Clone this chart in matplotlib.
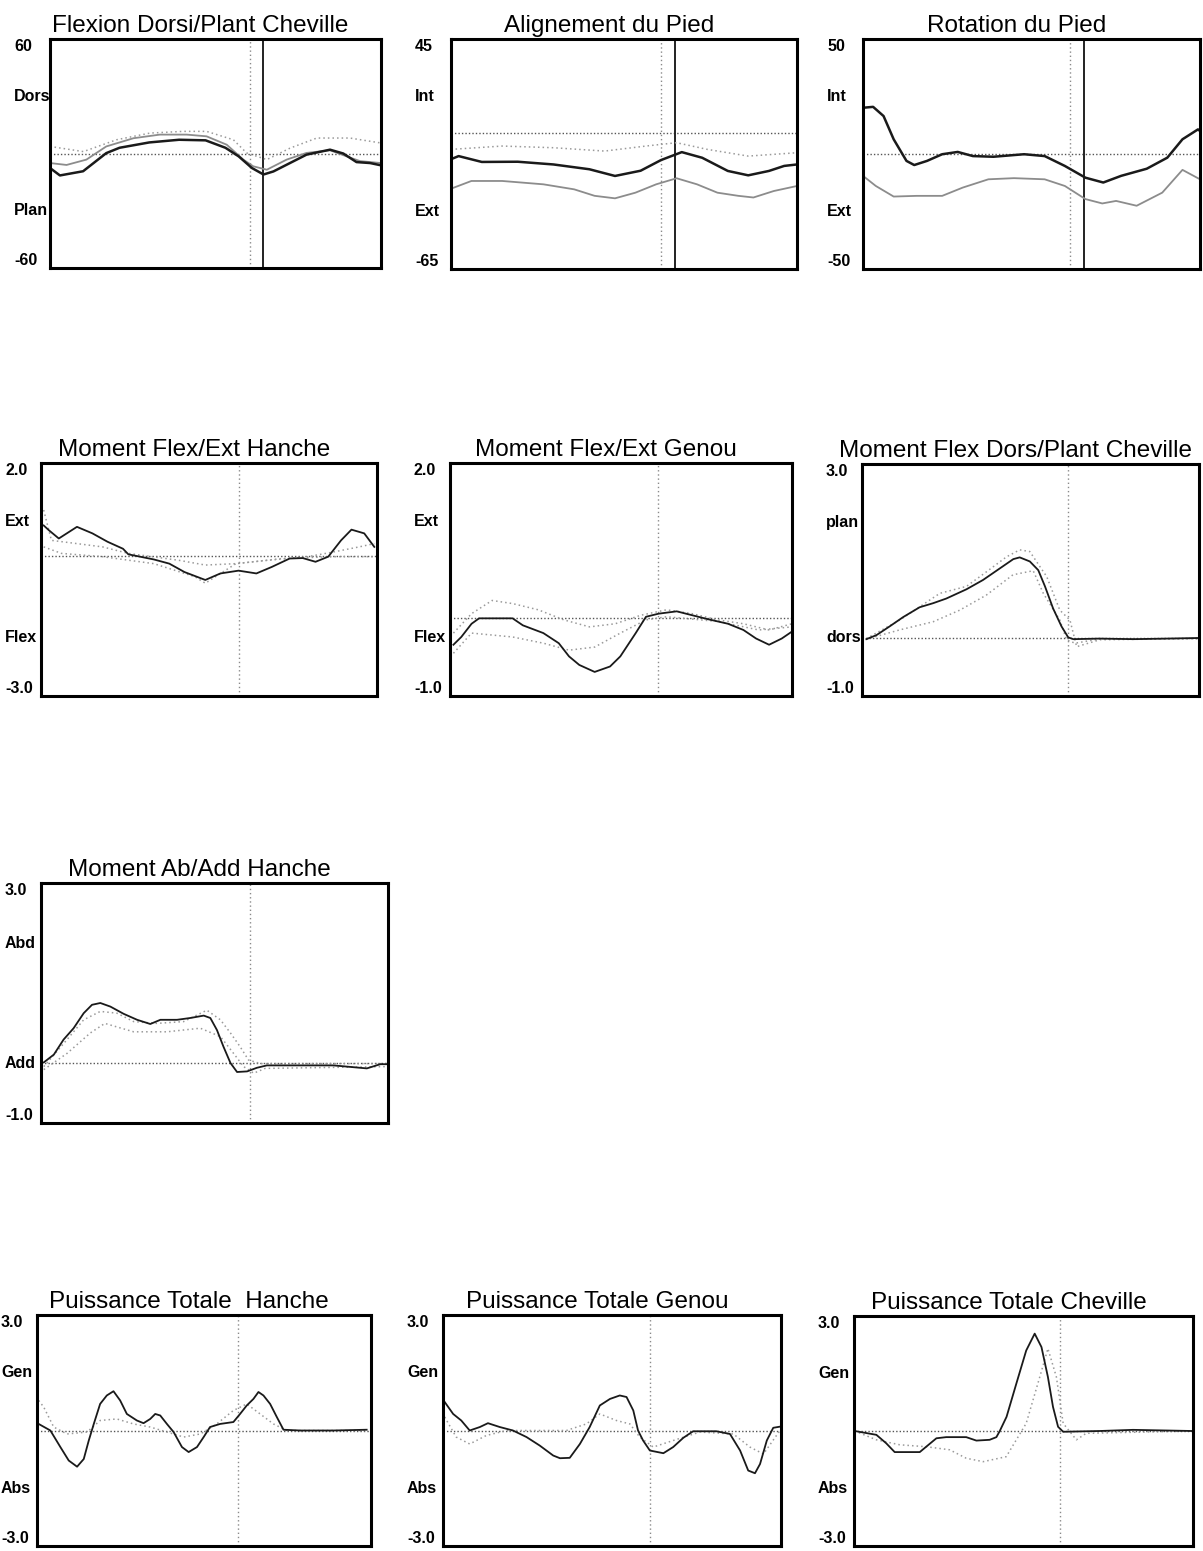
import matplotlib
matplotlib.use("Agg")
import matplotlib.pyplot as plt
from matplotlib.transforms import offset_copy

plt.rcParams['font.family'] = ['Liberation Sans', 'DejaVu Sans']

# --- Flexion Dorsi/Plant Cheville ---
flex_chev_x = [0, 3, 10, 17, 21, 30, 39, 47, 53, 57, 61, 64.5, 67.5, 72.5, 77.5, 84.6, 88.6, 92.6, 96.7, 100]
flex_chev_y = [-7.6, -11.5, -9.3, 0.2, 3, 5.8, 7.2, 6.9, 3, -1.5, -7.6, -11, -9.4, -5, -0.6, 2, 0, -4.5, -5, -6.2]
flex_chev_norm_x = [0, 5, 11, 17, 25.2, 33.2, 41.3, 47.3, 53.4, 58.4, 61.4, 65.5, 71.5, 77.5, 84.6, 89.6, 93.7, 100]
flex_chev_norm_y = [-5, -6, -3.2, 3.7, 8, 9.9, 9.9, 9, 4.6, -3.2, -6.7, -8.5, -3.2, 0.3, 1.7, -1.5, -4, -5]
flex_chev_band_x = [0, 10.1, 20.1, 30.2, 40.3, 47.3, 55.4, 59.4, 65.5, 72.5, 80.6, 90.6, 100]
flex_chev_band_y = [3.7, 1, 7.2, 10.7, 11.6, 11.6, 7.2, 0.3, -3.2, 2.8, 8.1, 8.1, 5.5]

# --- Alignement du Pied ---
align_x = [0, 2.2, 8.9, 19.3, 29.6, 40, 47.4, 54.8, 60.7, 66.7, 72.6, 80, 85.9, 91.9, 96.3, 100]
align_y = [-12.5, -11, -13.8, -13.7, -15, -17.3, -20.5, -18, -12.9, -9.1, -11.8, -18.1, -20.2, -18.1, -15.7, -15]
align_norm_x = [0, 5.9, 14.8, 26.7, 35.6, 41.5, 47.4, 53.3, 59.3, 65.2, 71.1, 77, 83, 87.4, 93.3, 100]
align_norm_y = [-26.6, -22.9, -22.9, -24.5, -26.9, -30, -31.2, -28.5, -24.5, -21.6, -24.5, -28.5, -30, -30.8, -27.7, -25.3]
align_band_x = [0, 14.8, 29.6, 44.4, 56.3, 65.2, 74.1, 85.9, 100]
align_band_y = [-7.8, -6.2, -7, -8.6, -6.2, -4.6, -7.8, -11, -9.4]

# --- Rotation du Pied ---
rot_x = [0, 3, 6.1, 9.1, 12.9, 15.2, 19, 23.5, 28.1, 32.6, 38.7, 47.8, 53.9, 59.9, 66, 71.3, 76.6, 84.2, 90.3, 94.8, 99.4, 100]
rot_y = [20.1, 20.5, 16.5, 6.4, -3, -4.8, -3, -0.1, 0.9, -0.9, -1.2, -0.1, -0.9, -5.2, -10.3, -12.4, -9.5, -6.4, -1.6, 6.4, 10.7, 10.0]
rot_norm_x = [0, 3.8, 9.1, 15.9, 23.5, 29.6, 37.2, 44.8, 53.9, 59.9, 66, 71, 75.1, 81.2, 88.8, 94.8, 100]
rot_norm_y = [-9.5, -13.9, -18.5, -18.2, -18.2, -14.6, -11, -10.5, -11, -13.9, -19.6, -21.5, -20.4, -22.5, -16.8, -6.9, -11]

# --- Moment Flex/Ext Hanche ---
mfh_x = [0.8, 2.3, 5.3, 10.7, 15.3, 19.8, 24.4, 26, 33.6, 38.2, 42.7, 48.9, 53.4, 58.8, 64.1, 68.7, 74, 77.9, 81.7, 85.5, 89.3, 92.4, 96.2, 99.2]
mfh_y = [0.66, 0.56, 0.38, 0.63, 0.49, 0.31, 0.16, 0.04, -0.07, -0.16, -0.34, -0.51, -0.37, -0.31, -0.37, -0.23, -0.05, -0.04, -0.12, -0.01, 0.34, 0.57, 0.49, 0.2]
mfh_up_x = [0.8, 3.1, 10.7, 18.3, 26, 41.2, 48.9, 58, 67.2, 79.4, 87, 94.7, 99.2]
mfh_up_y = [0.99, 0.34, 0.27, 0.2, 0.06, -0.09, -0.19, -0.16, -0.09, -0.01, 0.09, 0.2, 0.27]
mfh_lo_x = [0.8, 6.1, 18.3, 33.6, 45.8, 48.9, 58, 71.8, 87, 99.2]
mfh_lo_y = [0.2, 0.06, -0.01, -0.16, -0.44, -0.58, -0.16, -0.05, -0.01, -0.01]

# --- Moment Flex/Ext Genou ---
mfg_x = [1, 3.3, 6.3, 8.5, 18.3, 21.3, 27.3, 31.8, 34.8, 37.8, 42.3, 46.8, 49.8, 54.3, 57.3, 61, 66.3, 70.8, 75.3, 81.3, 85.8, 89.5, 93.3, 97, 100]
mfg_y = [-0.34, -0.24, -0.07, 0, 0, -0.09, -0.19, -0.32, -0.49, -0.6, -0.69, -0.62, -0.49, -0.19, 0.02, 0.06, 0.09, 0.04, -0.01, -0.07, -0.15, -0.26, -0.34, -0.26, -0.17]
mfg_up_x = [1, 6.3, 12.3, 18.3, 25.8, 33.3, 40.8, 48.3, 55.8, 63.3, 70.8, 78.3, 85.8, 93.3, 100]
mfg_up_y = [-0.19, 0.06, 0.23, 0.19, 0.11, -0.02, -0.11, -0.07, 0.04, 0.11, 0.06, -0.02, -0.07, -0.15, -0.07]
mfg_lo_x = [1, 6.3, 18.3, 27.3, 34.8, 42.3, 49.8, 57.3, 63.3, 78.3, 90.3, 100]
mfg_lo_y = [-0.45, -0.19, -0.24, -0.32, -0.41, -0.37, -0.19, -0.02, 0.02, -0.04, -0.15, -0.11]

# --- Moment Flex Dors/Plant Cheville ---
mfc_x = [1.3, 4.3, 8.2, 12.2, 17.1, 21.1, 25, 31, 35.9, 40.9, 44.9, 46.8, 49.8, 52.3, 54.3, 56.7, 59.2, 61.2, 62.7, 70.6, 80.5, 90.4, 99.8]
mfc_y = [-0.02, 0.05, 0.2, 0.36, 0.53, 0.6, 0.68, 0.84, 1.0, 1.2, 1.36, 1.39, 1.32, 1.17, 0.89, 0.51, 0.2, 0.01, -0.02, -0.01, -0.02, -0.01, 0]
mfc_up_x = [1.3, 11.2, 23.1, 31, 36.9, 42.9, 46.8, 49.8, 52.8, 54.8, 58.7, 61.7, 63.7, 70.6, 99.8]
mfc_up_y = [-0.01, 0.31, 0.77, 0.89, 1.14, 1.4, 1.52, 1.49, 1.23, 1.06, 0.48, 0.31, -0.15, -0.03, -0.01]
mfc_lo_x = [1.3, 11.2, 21.1, 29, 36.9, 44.8, 50.8, 53.8, 58.7, 60.7, 63.2, 70.1, 99.8]
mfc_lo_y = [-0.02, 0.14, 0.28, 0.48, 0.74, 1.09, 1.16, 0.77, 0.31, -0.03, -0.09, -0.02, -0.01]

# --- Moment Ab/Add Hanche ---
mab_x = [0.8, 3.7, 6.5, 9.4, 12.3, 14.7, 17.1, 20, 23.8, 27.7, 31.5, 34.4, 39.2, 43, 46.9, 48.8, 50.7, 52.6, 54.6, 56.5, 59.4, 62.2, 65.1, 74.7, 84.3, 93.9, 97.8, 99.7]
mab_y = [0.01, 0.14, 0.39, 0.58, 0.83, 0.97, 1.0, 0.94, 0.82, 0.72, 0.65, 0.72, 0.72, 0.75, 0.79, 0.75, 0.55, 0.27, 0.0, -0.15, -0.14, -0.08, -0.04, -0.04, -0.04, -0.09, -0.02, -0.02]
mab_up_x = [0.8, 7.5, 12.3, 17.1, 21.9, 26.7, 33.4, 41.1, 47.8, 51.7, 54.6, 57.4, 59.8, 63.2, 99.7]
mab_up_y = [-0.06, 0.39, 0.72, 0.86, 0.83, 0.69, 0.66, 0.69, 0.88, 0.72, 0.5, 0.27, 0.05, -0.01, -0.01]
mab_lo_x = [0.8, 7.5, 14.2, 18.4, 26.7, 36.3, 45.9, 51.7, 55.5, 58.4, 61.3, 64.6, 99.7]
mab_lo_y = [-0.11, 0.16, 0.5, 0.66, 0.52, 0.52, 0.58, 0.44, 0.16, -0.06, -0.17, -0.09, -0.06]

# --- Puissance Totale Hanche ---
pth_x = [0.5, 4, 7, 9.5, 12, 14, 15.5, 17, 18.9, 20.9, 22.9, 24.9, 26.9, 29.9, 31.9, 33.9, 35.4, 36.9, 38.9, 40.9, 43.4, 45.4, 47.9, 49.9, 51.8, 54.8, 58.8, 60.8, 62.8, 64.8, 66.3, 67.8, 69.8, 71.8, 73.8, 78.8, 88.7, 98.7]
pth_y = [0.17, 0, -0.43, -0.78, -0.94, -0.74, -0.26, 0.17, 0.69, 0.91, 1.02, 0.78, 0.43, 0.26, 0.19, 0.3, 0.43, 0.39, 0.17, -0.04, -0.43, -0.56, -0.43, -0.17, 0.09, 0.17, 0.22, 0.43, 0.65, 0.82, 1.0, 0.91, 0.69, 0.35, 0.02, 0, 0, 0.02]
pth_norm_x = [0.5, 2, 5, 9, 15, 18.9, 23.9, 28.9, 33.9, 38.9, 43.9, 48.9, 53.8, 58.8, 62.8, 66.8, 70.8, 74.8, 98.7]
pth_norm_y = [0.78, 0.61, 0.09, -0.09, -0.04, 0.26, 0.3, 0.17, 0.09, -0.04, -0.17, -0.09, 0.17, 0.52, 0.69, 0.43, 0.17, 0, 0]

# --- Puissance Totale Genou ---
ptg_x = [0.5, 3, 5.4, 7.9, 10.9, 13.3, 16.8, 20.7, 24.7, 28.6, 32.6, 34.6, 37.5, 40.5, 43.4, 46.4, 49.4, 52.3, 54.3, 56.3, 57.7, 59.2, 61.2, 65.2, 68.1, 71.1, 74, 80.9, 84.9, 87.9, 90.3, 92.3, 93.8, 95.8, 97.7, 99.7]
ptg_y = [0.74, 0.43, 0.26, 0, 0.09, 0.19, 0.09, 0, -0.17, -0.39, -0.65, -0.72, -0.71, -0.35, 0.09, 0.65, 0.82, 0.91, 0.87, 0.52, 0, -0.26, -0.52, -0.59, -0.43, -0.19, -0.02, -0.02, -0.09, -0.52, -1.04, -1.11, -0.87, -0.26, 0.07, 0.1]
ptg_norm_x = [0.5, 3.9, 7.9, 12.8, 18.8, 26.7, 36.5, 42.4, 46.4, 51.3, 55.3, 58.2, 62.2, 68.1, 76, 85.9, 90.8, 94.8, 99.7]
ptg_norm_y = [0.35, -0.17, -0.35, -0.13, 0, 0, 0, 0.17, 0.43, 0.26, 0.17, -0.17, -0.43, -0.26, -0.04, -0.09, -0.43, -0.61, 0]

# --- Puissance Totale Cheville ---
ptc_x = [0.2, 6.6, 9.5, 12, 19.4, 21.3, 24.3, 27.2, 33.1, 36.1, 40, 42, 43, 45, 47.9, 50.8, 53.3, 55.3, 57.2, 58.7, 60.2, 61.7, 72.5, 82.3, 99.8]
ptc_y = [0, -0.1, -0.32, -0.55, -0.55, -0.41, -0.19, -0.16, -0.16, -0.25, -0.23, -0.16, 0, 0.37, 1.24, 2.1, 2.54, 2.19, 1.41, 0.63, 0.11, -0.02, 0, 0.03, 0]
ptc_norm_x = [0.2, 6.6, 13.5, 21.3, 28.2, 33.1, 38.1, 44.9, 50.8, 54.8, 57.2, 59.7, 61.7, 65.6, 68.5, 99.8]
ptc_norm_y = [0, -0.23, -0.36, -0.41, -0.49, -0.71, -0.8, -0.67, 0.2, 1.41, 2.15, 1.41, 0.2, -0.23, -0.06, 0]

titles = ["Flexion Dorsi/Plant Cheville", "Alignement du Pied", "Rotation du Pied",
          "Moment Flex/Ext Hanche", "Moment Flex/Ext Genou", "Moment Flex Dors/Plant Cheville",
          "Moment Ab/Add Hanche",
          "Puissance Totale  Hanche", "Puissance Totale Genou", "Puissance Totale Cheville"]
y_limits = [(-60, 60), (-65, 45), (-50, 50), (-3.0, 2.0), (-1.0, 2.0), (-1.0, 3.0),
            (-1.0, 3.0), (-3.0, 3.0), (-3.0, 3.0), (-3.0, 3.0)]
y_labels = [("60", "Dors", "Plan", "-60"), ("45", "Int", "Ext", "-65"), ("50", "Int", "Ext", "-50"),
            ("2.0", "Ext", "Flex", "-3.0"), ("2.0", "Ext", "Flex", "-1.0"), ("3.0", "plan", "dors", "-1.0"),
            ("3.0", "Abd", "Add", "-1.0"),
            ("3.0", "Gen", "Abs", "-3.0"), ("3.0", "Gen", "Abs", "-3.0"), ("3.0", "Gen", "Abs", "-3.0")]
toe_off_norm = [60.4, 60.7, 61.5, 59, 60.7, 61.2, 60.1, 60.3, 61.2, 60.9]
toe_off_patient = [64.5, 64.7, 65.7, None, None, None, None, None, None, None]

# pixel boxes (left, top, right, bottom) of each panel
boxes = [(50, 39, 381, 268), (451, 39, 797, 269), (863, 39, 1200, 269),
         (41, 463, 377, 696), (450, 463, 792, 696), (862, 464, 1199, 696),
         (41, 883, 388, 1123),
         (37, 1315, 371, 1546), (443, 1315, 781, 1546), (854, 1316, 1193, 1546)]

patient = [(flex_chev_x, flex_chev_y), (align_x, align_y), (rot_x, rot_y),
           (mfh_x, mfh_y), (mfg_x, mfg_y), (mfc_x, mfc_y), (mab_x, mab_y),
           (pth_x, pth_y), (ptg_x, ptg_y), (ptc_x, ptc_y)]
normal_solid = [(flex_chev_norm_x, flex_chev_norm_y), (align_norm_x, align_norm_y), (rot_norm_x, rot_norm_y),
                None, None, None, None, None, None, None]
normal_dotted = [[(flex_chev_band_x, flex_chev_band_y)], [(align_band_x, align_band_y)], [],
                 [(mfh_up_x, mfh_up_y), (mfh_lo_x, mfh_lo_y)],
                 [(mfg_up_x, mfg_up_y), (mfg_lo_x, mfg_lo_y)],
                 [(mfc_up_x, mfc_up_y), (mfc_lo_x, mfc_lo_y)],
                 [(mab_up_x, mab_up_y), (mab_lo_x, mab_lo_y)],
                 [(pth_norm_x, pth_norm_y)], [(ptg_norm_x, ptg_norm_y)], [(ptc_norm_x, ptc_norm_y)]]

W, H = 1203, 1551
fig = plt.figure(figsize=(W / 100, H / 100), dpi=100)

for i in range(len(titles)):
    l, t, r, b = boxes[i]
    ax = fig.add_axes([l / W, 1 - b / H, (r - l) / W, (b - t) / H])
    lo, hi = y_limits[i]
    ax.set_xlim(0, 100)
    ax.set_ylim(lo, hi)
    ax.set_xticks([])
    ax.set_yticks([])
    for s in ax.spines.values():
        s.set_linewidth(2.2)
        s.set_color('black')

    ax.axhline(0, color='#555555', lw=1.0, ls=(0, (1, 1.5)))
    ax.axvline(toe_off_norm[i], color='#8a8a8a', lw=1.0, ls=(0, (1, 2)))
    if toe_off_patient[i] is not None:
        ax.axvline(toe_off_patient[i], color='#222222', lw=1.4)

    for xs, ys in normal_dotted[i]:
        ax.plot(xs, ys, color='#9a9a9a', lw=1.1, ls=(0, (1, 2)))
    if normal_solid[i] is not None:
        xs, ys = normal_solid[i]
        ax.plot(xs, ys, color='#8c8c8c', lw=1.3)
    xs, ys = patient[i]
    ax.plot(xs, ys, color='#1a1a1a', lw=1.8 if i < 3 else 1.3)

    # titles sit a little left of the box centre, as in the printout
    ttrans = offset_copy(ax.transAxes, fig=fig, x=-15, y=7, units='dots')
    ax.text(0.5, 1.0, titles[i], transform=ttrans, ha='center', va='baseline', fontsize=17.5)

    trans = offset_copy(ax.get_yaxis_transform(), fig=fig, x=-36, y=0, units='dots')
    span = hi - lo
    top_lbl, up_lbl, low_lbl, bot_lbl = y_labels[i]
    kw = dict(transform=trans, ha='left', fontsize=11.5, fontweight='bold')
    ax.text(0, hi, top_lbl, va='top', **kw)
    ax.text(0, hi - 0.25 * span, up_lbl, va='center', **kw)
    ax.text(0, hi - 0.75 * span, low_lbl, va='center', **kw)
    ax.text(0, lo, bot_lbl, va='bottom', **kw)

fig.savefig("out.png", dpi=100)
